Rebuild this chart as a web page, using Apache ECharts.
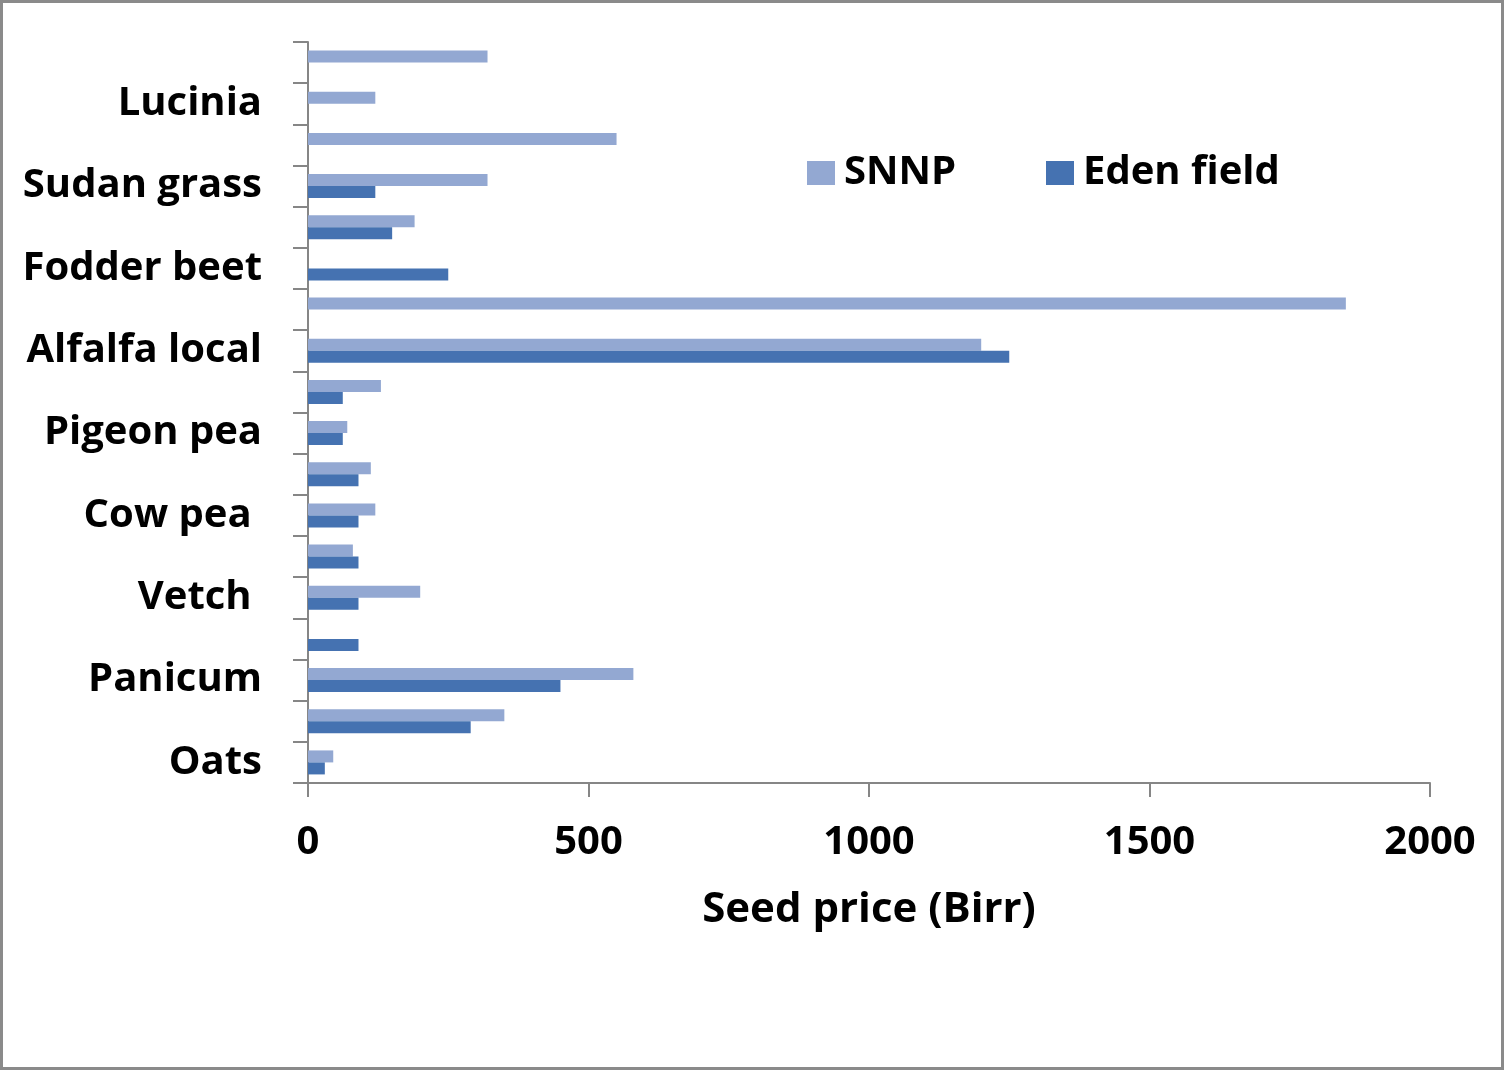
<!DOCTYPE html>
<html>
<head>
<meta charset="utf-8">
<title>Seed price by forage crop</title>
<script src="https://cdn.jsdelivr.net/npm/echarts@6/dist/echarts.min.js"></script>
<style>
  html, body { margin: 0; padding: 0; background: #fff; }
  #chart { width: 1505px; height: 1071px; }
</style>
</head>
<body>
<div id="chart"></div>
<script>
// Categories listed bottom to top; every other row carries a name.
const categories = [
  'Oats', '', 'Panicum', '', 'Vetch ', '', 'Cow pea ', '', 'Pigeon pea', '',
  'Alfalfa local', '', 'Fodder beet', '', 'Sudan grass', '', 'Lucinia', ''
];

// Seed price (Birr); null where a source has no price.
const snnp = [45, 350, 580, null, 200, 80, 120, 112, 70, 130,
              1200, 1850, null, 190, 320, 550, 120, 320];
const edenField = [30, 290, 450, 90, 90, 90, 90, 90, 62, 62,
                   1250, null, 250, 150, 120, null, null, null];

const xTicks = [0, 500, 1000, 1500, 2000];

const seriesNames = ['SNNP', 'Eden field'];
const colors = { 'SNNP': '#93A8D2', 'Eden field': '#4572B1' };

const FONT = 'Open Sans';
const AXIS_GRAY = '#868686';

const chart = echarts.init(document.getElementById('chart'), null, { renderer: 'canvas' });

const legendBase = {
  orient: 'horizontal',
  itemWidth: 28,
  itemHeight: 24,
  itemGap: 0,
  icon: 'rect',
  textStyle: { fontFamily: FONT, fontWeight: 'bold', fontSize: 40, lineHeight: 40, color: '#000', padding: [0, 0, 0, 4] },
  selectedMode: false
};

chart.setOption({
  animation: false,
  backgroundColor: '#fff',
  textStyle: { fontFamily: FONT },
  graphic: [{
    type: 'rect',
    shape: { x: 1.5, y: 1.5, width: 1501, height: 1067 },
    style: { fill: 'none', stroke: '#8a8a8a', lineWidth: 3 },
    silent: true
  }],
  legend: [
    Object.assign({}, legendBase, { data: [seriesNames[0]], left: 802, top: 148 }),
    Object.assign({}, legendBase, { data: [seriesNames[1]], left: 1041, top: 148 })
  ],
  grid: { left: 308, right: 75, top: 42, bottom: 288, containLabel: false },
  xAxis: {
    type: 'value',
    min: xTicks[0],
    max: xTicks[xTicks.length - 1],
    interval: xTicks[1] - xTicks[0],
    name: 'Seed price (Birr)',
    nameLocation: 'middle',
    nameGap: 106,
    nameTextStyle: { fontFamily: FONT, fontWeight: 'bold', fontSize: 42, color: '#000' },
    axisLine: { show: true, lineStyle: { color: AXIS_GRAY, width: 2 } },
    axisTick: { show: true, length: 14, lineStyle: { color: AXIS_GRAY, width: 2 } },
    axisLabel: {
      margin: 40, fontFamily: FONT, fontWeight: 'bold', fontSize: 40, color: '#000',
      formatter: (v) => String(v)
    },
    splitLine: { show: false }
  },
  yAxis: {
    type: 'category',
    data: categories,
    boundaryGap: true,
    axisLine: { show: true, lineStyle: { color: AXIS_GRAY, width: 2 } },
    axisTick: { show: true, length: 15, interval: 0, alignWithLabel: false, lineStyle: { color: AXIS_GRAY, width: 2 } },
    axisLabel: {
      interval: 0, margin: 46, fontFamily: FONT, fontWeight: 'bold', fontSize: 40, color: '#000',
      padding: [8, 0, 0, 0]
    },
    splitLine: { show: false }
  },
  series: [
    {
      name: seriesNames[0],
      type: 'bar',
      data: snnp,
      barWidth: 12,
      barGap: '0%',
      itemStyle: { color: colors['SNNP'] }
    },
    {
      name: seriesNames[1],
      type: 'bar',
      data: edenField,
      barWidth: 12,
      barGap: '0%',
      itemStyle: { color: colors['Eden field'] }
    }
  ]
});
</script>
</body>
</html>
